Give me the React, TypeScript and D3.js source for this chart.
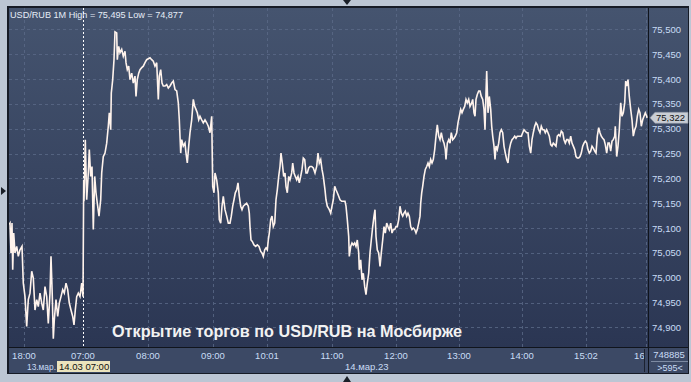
import React from "react";
import * as d3 from "d3";

// USD/RUB 1-minute bars: evening session 13 March (bar index, price)
const eveningBars: [number, number][] = [
  [0, 75.107], [1, 75.11], [2, 75.05], [3, 75.11], [3.7, 75.016], [4.7, 75.09], [6, 75.05],
  [7.7, 75.063], [9.3, 75.043], [11, 75.056], [13, 75.063], [14.3, 74.989], [16, 74.962],
  [17.7, 74.902], [19.3, 74.956], [21, 74.969], [22.7, 75.013], [24.3, 74.999], [26, 74.935],
  [27.7, 74.956], [29.3, 74.942], [31, 74.969], [32.7, 74.949], [34.3, 74.935], [36, 74.982],
  [37.7, 74.962], [39.3, 74.908], [41, 74.969], [42, 75.043], [43.3, 74.962], [44.3, 74.877],
  [45.3, 74.915], [47, 74.956], [48.7, 74.922], [50.3, 74.949], [52, 74.962], [53.7, 74.976],
  [55.3, 74.969], [57, 74.989], [58.7, 74.976], [60.3, 74.949], [62, 74.935], [63.7, 74.922],
  [65, 74.905], [66.3, 74.935], [67.7, 74.962], [69.3, 74.969], [71, 74.962], [72.7, 74.989],
  [74, 74.962],
];

// USD/RUB 1-minute bars: main session 14 March (bar index, price)
const dayBars: [number, number][] = [
  [74.7, 75.197], [75, 75.154], [76.3, 75.278], [77.7, 75.157], [79.3, 75.211], [80.3, 75.258],
  [81.7, 75.204], [83, 75.224], [84.3, 75.097], [85.7, 75.204], [87, 75.171], [88.3, 75.15],
  [90, 75.124], [91.7, 75.157], [92.7, 75.211], [94.3, 75.244], [96, 75.251], [97.7, 75.271],
  [99.3, 75.305], [100.3, 75.332], [101.7, 75.298], [102.3, 75.372], [103.7, 75.399],
  [105, 75.439], [106, 75.495], [107.7, 75.493], [108.3, 75.439], [109.7, 75.466], [111, 75.453],
  [112.7, 75.46], [114.3, 75.446], [116, 75.456], [117, 75.433], [118.3, 75.419], [119.7, 75.426],
  [121, 75.399], [122.7, 75.412], [124.3, 75.392], [126, 75.406], [127, 75.365], [128.3, 75.399],
  [129.7, 75.412], [131, 75.419], [132.7, 75.423], [134.3, 75.426], [136, 75.433], [137.7, 75.439],
  [139.3, 75.441], [141, 75.443], [142.7, 75.439], [144.3, 75.436], [146, 75.426], [147.7, 75.433],
  [149.3, 75.359], [150.3, 75.406], [151.7, 75.419], [153, 75.392], [154.3, 75.386], [156, 75.386],
  [157.7, 75.389], [159.3, 75.382], [161, 75.386], [162.7, 75.392], [164.3, 75.396], [166, 75.379],
  [167.7, 75.376], [169.3, 75.352], [170.3, 75.318], [171.7, 75.251], [172.7, 75.278],
  [174.3, 75.265], [176, 75.271], [177, 75.251], [178.3, 75.231], [179.7, 75.265], [181, 75.292],
  [182.7, 75.318], [184.3, 75.359], [185.7, 75.345], [187, 75.339], [188.3, 75.332],
  [189.7, 75.318], [191, 75.325], [192.7, 75.318], [194.3, 75.312], [196, 75.318], [197.7, 75.312],
  [199.3, 75.305], [201, 75.292], [202.7, 75.325], [203.7, 75.184], [205, 75.171], [206, 75.211],
  [207.7, 75.197], [209.3, 75.171], [210.3, 75.117], [211.7, 75.11], [213, 75.144], [214.3, 75.164],
  [216, 75.137], [217.7, 75.124], [219.3, 75.11], [221, 75.11], [222.3, 75.124], [223.7, 75.144],
  [225, 75.157], [226.3, 75.171], [227.7, 75.177], [229, 75.191], [230.3, 75.164], [231.7, 75.144],
  [233, 75.137], [234.3, 75.144], [236, 75.147], [237.7, 75.15], [239.3, 75.144], [240.3, 75.13],
  [241, 75.103], [242, 75.076], [243.3, 75.073], [245, 75.066], [246.7, 75.063], [248.3, 75.066],
  [250, 75.063], [251.7, 75.053], [253, 75.05], [254.3, 75.043], [255.7, 75.056], [257, 75.06],
  [258.3, 75.056], [259.3, 75.076], [260.3, 75.09], [261.7, 75.117], [263, 75.124], [264.3, 75.103],
  [265.7, 75.11], [267, 75.157], [268.3, 75.177], [269.7, 75.204], [271, 75.224], [272, 75.251],
  [273.3, 75.231], [274.7, 75.204], [276, 75.211], [277, 75.184], [278.3, 75.171], [279.7, 75.204],
  [281, 75.197], [282.7, 75.211], [283.7, 75.231], [285, 75.211], [286.3, 75.204], [287.7, 75.197],
  [289, 75.204], [290.3, 75.191], [291.7, 75.204], [293, 75.218], [294.3, 75.241], [295.7, 75.238],
  [297, 75.211], [298.3, 75.211], [299.7, 75.221], [301, 75.224], [302.7, 75.224], [304.3, 75.221],
  [306, 75.211], [307.7, 75.224], [309, 75.251], [310.3, 75.231], [311.7, 75.238], [313, 75.218],
  [314.3, 75.204], [316, 75.177], [317, 75.157], [318.3, 75.144], [320.3, 75.137], [321.7, 75.13],
  [323, 75.144], [324.3, 75.157], [325.7, 75.184], [327, 75.177], [328.3, 75.171], [329.7, 75.164],
  [331, 75.157], [332.7, 75.154], [334.3, 75.154], [336, 75.154], [337, 75.144], [338.3, 75.117],
  [339.7, 75.083], [340.3, 75.043], [341.7, 75.063], [343, 75.07], [344.3, 75.066], [345.7, 75.07],
  [347, 75.063], [348.3, 75.076], [349.7, 75.05], [350.3, 75.016], [351.7, 75.036], [353, 74.996],
  [354.3, 75.009], [355.7, 74.982], [357, 74.966], [358.3, 74.989], [359.7, 75.009], [361, 75.05],
  [362.3, 75.076], [363.7, 75.103], [365, 75.124], [366, 75.137], [367, 75.083], [368.3, 75.056],
  [369.7, 75.05], [371, 75.023], [372.3, 75.05], [373.7, 75.076], [375, 75.103], [376.3, 75.09],
  [377.7, 75.11], [379, 75.103], [380.3, 75.097], [381.7, 75.11], [383, 75.09], [384.3, 75.097],
  [385.7, 75.097], [387, 75.103], [388.3, 75.103], [389.7, 75.117], [391, 75.144], [392.3, 75.13],
  [393.7, 75.124], [395, 75.13], [396.3, 75.134], [397.7, 75.124], [399, 75.13], [400.3, 75.124],
  [401.7, 75.103], [403, 75.097], [404.3, 75.1], [405.7, 75.097], [407, 75.09], [408.3, 75.097],
  [409.7, 75.11], [411, 75.124], [411.7, 75.15], [412.7, 75.171], [413.7, 75.184], [415, 75.204],
  [416.3, 75.218], [417.7, 75.224], [419, 75.231], [420.3, 75.224], [421.7, 75.238], [423, 75.231],
  [424.3, 75.238], [425.7, 75.258], [427, 75.285], [428.3, 75.308], [429.7, 75.285], [431, 75.278],
  [432.3, 75.292], [433.7, 75.278], [435, 75.271], [436.3, 75.258], [437, 75.238], [438.3, 75.271],
  [439.7, 75.278], [441, 75.271], [442.3, 75.292], [443.7, 75.278], [445, 75.281], [446.3, 75.285],
  [447.7, 75.292], [449, 75.312], [450.3, 75.325], [451.7, 75.339], [453, 75.332], [454.3, 75.339],
  [455.7, 75.345], [457, 75.359], [458.3, 75.352], [459.7, 75.359], [461, 75.345], [462.7, 75.352],
  [463.7, 75.359], [465, 75.332], [466, 75.325], [467, 75.359], [468.3, 75.369], [469.7, 75.376],
  [471, 75.376], [472.3, 75.365], [473.7, 75.359], [475, 75.339], [476, 75.298], [477, 75.372],
  [477.7, 75.416], [479, 75.332], [480.3, 75.365], [481.7, 75.339], [482.7, 75.305], [483.7, 75.285],
  [485, 75.265], [486, 75.238], [487, 75.265], [488.3, 75.258], [489.7, 75.271], [491, 75.292],
  [492.3, 75.298], [493.7, 75.292], [495, 75.265], [496.3, 75.251], [497.7, 75.238], [499, 75.231],
  [500.3, 75.258], [501.7, 75.271], [503, 75.278], [504.3, 75.281], [505.7, 75.285], [507, 75.281],
  [508.3, 75.285], [509.7, 75.285], [511, 75.285], [512.3, 75.285], [513.7, 75.292], [515, 75.298],
  [516.3, 75.295], [517.7, 75.292], [519, 75.292], [520.3, 75.265], [521.7, 75.251], [523, 75.278],
  [524.3, 75.292], [525.7, 75.305], [527, 75.312], [528.3, 75.308], [529.7, 75.298], [531, 75.292],
  [532.3, 75.305], [533.7, 75.298], [535, 75.298], [536.3, 75.292], [537.7, 75.298], [539, 75.292],
  [540.3, 75.285], [541.7, 75.268], [543, 75.265], [544.3, 75.271], [545.7, 75.268], [547, 75.265],
  [548.3, 75.285], [549.7, 75.288], [551, 75.285], [552.3, 75.295], [553.7, 75.292], [555, 75.278],
  [556.3, 75.271], [557.7, 75.278], [559, 75.278], [560.3, 75.271], [561.7, 75.285], [563, 75.271],
  [564.3, 75.265], [565.7, 75.258], [567, 75.244], [568.3, 75.241], [569.7, 75.241], [571, 75.244],
  [572.3, 75.251], [573.7, 75.265], [575, 75.271], [576.3, 75.275], [577.7, 75.271], [579, 75.258],
  [580.3, 75.251], [581.7, 75.255], [583, 75.265], [584.3, 75.261], [585.7, 75.255], [587, 75.251],
  [588.3, 75.285], [589.7, 75.302], [591, 75.292], [592.3, 75.285], [593.7, 75.281], [595, 75.278],
  [596.3, 75.268], [597.7, 75.251], [599, 75.271], [600.3, 75.271], [601.7, 75.255], [603, 75.275],
  [604.3, 75.278], [605.7, 75.285], [606.3, 75.305], [607.7, 75.244], [609, 75.265], [610.3, 75.298],
  [611.7, 75.352], [613, 75.325], [614.3, 75.332], [615.7, 75.352], [616.7, 75.396], [617.7, 75.386],
  [619, 75.399], [620.3, 75.365], [621.7, 75.339], [623, 75.318], [624.3, 75.285], [625.7, 75.298],
  [627, 75.305], [628.3, 75.325], [629.7, 75.339], [631, 75.332], [632.3, 75.305], [633.7, 75.318],
  [635, 75.325], [636.3, 75.332], [637.7, 75.325], [638, 75.322],
];

// Time axis: bar index of each labelled bar
const timeTickBars = [15, 74, 139, 204, 258, 323, 387, 450, 513, 577, 637];
const timeTickLabels = ["18:00", "07:00", "08:00", "09:00", "10:01", "11:00", "12:00", "13:00", "14:00", "15:02", "16:00"];
const sessionStartBar = 74;

// Price axis ticks
const priceTicks = [74.9, 74.95, 75.0, 75.05, 75.1, 75.15, 75.2, 75.25, 75.3, 75.35, 75.4, 75.45, 75.5];

const lastPrice = 75.322;
const highPrice = 75.495;
const lowPrice = 74.877;

const W = 691;
const H = 382;
const plot = { left: 9, right: 648, top: 8, bottom: 347 };
const panelRight = 688;
const panelBottom = 373;

const fmt = (v: number) => v.toFixed(3).replace(".", ",");
const FONT = "'Liberation Sans', Arial, sans-serif";
const LABEL = "#c9dcf5";

export default function App() {
  const x = d3.scaleLinear().domain([0, 640]).range([plot.left, plot.left + 640]);
  const y = d3.scaleLinear().domain([74.9, 75.5]).range([327.4, 29.4]);

  const line = d3
    .line<[number, number]>()
    .x((d) => x(d[0]))
    .y((d) => y(d[1]));

  const path = line([...eveningBars, ...dayBars]) || "";
  const ly = y(lastPrice);

  return (
    <svg
      width={W}
      height={H}
      style={{ position: "absolute", left: 0, top: 0, display: "block" }}
      fontFamily={FONT}
    >
      <defs>
        <linearGradient id="bg" x1="0" y1="0" x2="0" y2="1">
          <stop offset="0" stopColor="#45546f" />
          <stop offset="1" stopColor="#2b3653" />
        </linearGradient>
        <clipPath id="plotClip">
          <rect x={plot.left} y={plot.top} width={plot.right - plot.left} height={plot.bottom - plot.top} />
        </clipPath>
        <clipPath id="axisClip">
          <rect x={plot.left} y={plot.bottom} width={plot.right - plot.left - 3} height={panelBottom - plot.bottom} />
        </clipPath>
      </defs>

      {/* outer frame */}
      <rect x={0} y={0} width={W} height={H} fill="#bcc6d4" />
      <rect x={7} y={6} width={panelRight - 7 + 1} height={panelBottom - 6 + 1} fill="#161b26" />
      <rect x={plot.left} y={plot.top} width={panelRight - plot.left} height={plot.bottom - plot.top} fill="url(#bg)" />
      <rect x={plot.left} y={plot.bottom + 1} width={panelRight - plot.left} height={panelBottom - plot.bottom - 1} fill="#3c4965" />
      <line x1={plot.right + 0.5} x2={plot.right + 0.5} y1={plot.top} y2={panelBottom} stroke="#10141c" />
      <line x1={plot.left} x2={panelRight} y1={plot.bottom + 0.5} y2={plot.bottom + 0.5} stroke="#10141c" />

      {/* navigation markers */}
      <path d="M343,0 L351,0 L347,5 Z" fill="#1a1f28" />
      <path d="M343,382 L351,382 L347,376 Z" fill="#1a1f28" />
      <path d="M1,187 L6,191 L1,195 Z" fill="#1a1f28" />

      {/* grid */}
      <g stroke="#5b6a88" strokeWidth={1} strokeDasharray="3,3" opacity={0.8}>
        {priceTicks.map((p) => (
          <line key={p} x1={plot.left} x2={plot.right} y1={Math.round(y(p)) + 0.5} y2={Math.round(y(p)) + 0.5} />
        ))}
        {timeTickBars
          .filter((b) => b !== sessionStartBar)
          .map((b) => (
            <line key={b} x1={Math.round(x(b)) + 0.5} x2={Math.round(x(b)) + 0.5} y1={plot.top} y2={plot.bottom} />
          ))}
      </g>
      <line
        x1={Math.round(x(sessionStartBar)) + 0.5}
        x2={Math.round(x(sessionStartBar)) + 0.5}
        y1={plot.top}
        y2={plot.bottom}
        stroke="#ffffff"
        strokeDasharray="2,2"
      />

      {/* price series */}
      <g clipPath="url(#plotClip)">
        <path d={path} fill="none" stroke="#fff3ec" strokeWidth={1.6} strokeLinejoin="miter" />
      </g>

      {/* caption */}
      <text
        x={112}
        y={337}
        fontSize={16.5}
        fontWeight="bold"
        fill="#f2f2f2"
        textLength={350}
        lengthAdjust="spacingAndGlyphs"
      >
        Открытие торгов по USD/RUB на Мосбирже
      </text>

      {/* title */}
      <text x={10} y={18} fontSize={9.5} fill="#e6edf7" textLength={173} lengthAdjust="spacingAndGlyphs">
        {`USD/RUB 1M High = ${fmt(highPrice)} Low = ${fmt(lowPrice)}`}
      </text>

      {/* price axis labels */}
      <g fontSize={9.5} fill={LABEL}>
        {priceTicks.map((p) => (
          <text key={p} x={652} y={y(p) + 3.5}>
            {fmt(p)}
          </text>
        ))}
      </g>

      {/* last price tag */}
      <path
        d={`M650,${ly} L655,${ly - 5.5} L688,${ly - 5.5} L688,${ly + 5.5} L655,${ly + 5.5} Z`}
        fill="#c9cdd4"
        stroke="#8c94a2"
        strokeWidth={0.6}
      />
      <text x={656} y={ly + 3.5} fontSize={9.5} fill="#111">
        {fmt(lastPrice)}
      </text>

      {/* time axis labels */}
      <g fontSize={9.5} fill={LABEL} textAnchor="middle" clipPath="url(#axisClip)">
        {timeTickBars.map((b, i) => (
          <text key={b} x={x(b)} y={358.5}>
            {timeTickLabels[i]}
          </text>
        ))}
      </g>
      <line x1={644.5} x2={644.5} y1={349} y2={372} stroke="#1c2230" />

      {/* date row */}
      <g fontSize={9.5} fill={LABEL}>
        <text x={27} y={370} textLength={29} lengthAdjust="spacingAndGlyphs">13.мар.</text>
        <text x={345} y={370}>14.мар.23</text>
      </g>
      <rect x={57} y={361} width={53} height={11} fill="#ebe3bc" />
      <text x={59} y={370} fontSize={9.5} fill="#111">
        14.03 07:00
      </text>

      {/* volume info */}
      <text x={669} y={358} fontSize={9.5} fill={LABEL} textAnchor="middle">
        748885
      </text>
      <line x1={651} x2={panelRight} y1={361.5} y2={361.5} stroke="#7d8aa2" />
      <text x={670} y={370.5} fontSize={9} fill={LABEL} textAnchor="middle">
        &gt;595&lt;
      </text>
    </svg>
  );
}
